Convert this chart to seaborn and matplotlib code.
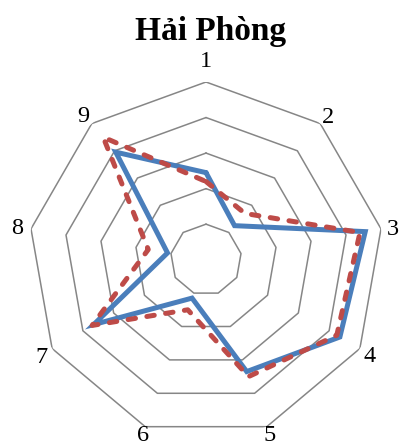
import numpy as np
import pandas as pd
import matplotlib
matplotlib.use("Agg")
import matplotlib.pyplot as plt
import seaborn as sns

# ---- data ----
categories = ["1", "2", "3", "4", "5", "6", "7", "8", "9"]
series_blue = [49, 25, 91, 87, 67, 23, 73, 22, 79]
series_red = [44, 34, 88, 85, 70, 30, 74, 33, 90]
ring_values = [20, 40, 60, 80, 100]
title = "Hải Phòng"

# layout: radial placement of category labels (in axis units)
label_radius = [113, 106.5, 107, 106.5, 104, 104, 107, 108, 107]

sns.set_theme(style="white")
plt.rcParams["font.family"] = ["Liberation Serif", "DejaVu Serif"]

W, H = 401, 445
fig = plt.figure(figsize=(W / 100, H / 100), dpi=100)
fig.patch.set_facecolor("white")

cx, cy, R = 206.0, 259.7, 177.7
ax = fig.add_axes([(cx - R) / W, (H - cy - R) / H, 2 * R / W, 2 * R / H],
                  projection="polar")
ax.set_theta_zero_location("N")
ax.set_theta_direction(-1)
ax.set_facecolor("none")

n = len(categories)
theta = np.arange(n) * 2 * np.pi / n
theta_closed = np.append(theta, theta[0])

# polygon rings
for v in ring_values:
    ax.plot(theta_closed, [v] * (n + 1), color="#868686", lw=1.1, zorder=1)

# series (closed loops)
rows = []
for name, vals in (("A", series_blue), ("B", series_red)):
    vv = list(vals) + [vals[0]]
    for k, (t, v) in enumerate(zip(theta_closed, vv)):
        rows.append({"series": name, "order": k, "theta": t, "value": v})
df = pd.DataFrame(rows)

sns.lineplot(data=df, x="theta", y="value", hue="series", style="series",
             units="series", estimator=None, sort=False,
             palette={"A": "#4A7EBB", "B": "#BE4B48"},
             dashes={"A": "", "B": (1.5, 2.3)},
             linewidth=3.6, legend=False, ax=ax, zorder=3)
for ln in ax.lines[-2:]:
    ln.set_dash_capstyle("round")
    ln.set_solid_joinstyle("miter")

ax.set_ylim(0, 100)
ax.grid(False)
ax.spines["polar"].set_visible(False)
ax.set_xticks([])
ax.set_yticks([])
ax.set_xlabel("")
ax.set_ylabel("")

for i, lab in enumerate(categories):
    ax.text(theta[i], label_radius[i], lab, ha="center", va="center_baseline",
            fontsize=17.5, color="black", clip_on=False)

fig.text(210.5 / W, (H - 40) / H, title, ha="center", va="baseline",
         fontsize=24, fontweight="bold", color="black")

fig.savefig("out.png", dpi=100, facecolor="white")
